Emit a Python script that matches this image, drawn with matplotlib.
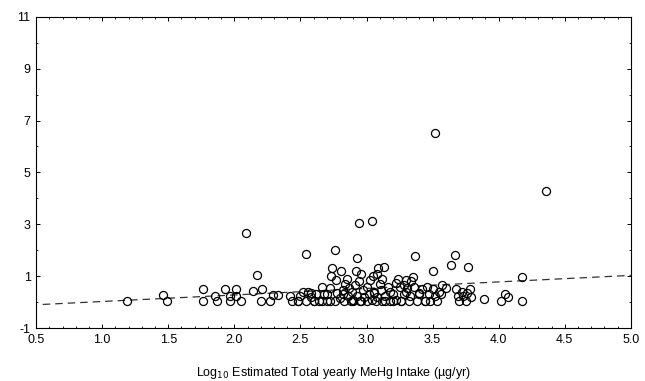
import numpy as np
import matplotlib
matplotlib.use("Agg")
from matplotlib import pyplot as plt
from matplotlib.ticker import MultipleLocator

plt.rcParams['font.family'] = ['Liberation Sans', 'DejaVu Sans']
plt.rcParams['axes.unicode_minus'] = False

# log10 estimated total yearly MeHg intake
intake = [1.19, 1.46, 1.49, 1.76, 1.76, 1.85, 1.87, 1.93, 1.97, 1.97,
          2.01, 2.01, 2.05, 2.09, 2.14, 2.17, 2.20, 2.21, 2.27, 2.29,
          2.33, 2.42, 2.44, 2.48, 2.50, 2.52, 2.54, 2.54, 2.56, 2.58,
          2.60, 2.62, 2.64, 2.66, 2.68, 2.70, 2.72, 2.73, 2.74, 2.76,
          2.76, 2.77, 2.78, 2.80, 2.81, 2.82, 2.83, 2.84, 2.85, 2.86,
          2.87, 2.88, 2.89, 2.90, 2.91, 2.92, 2.93, 2.93, 2.94, 2.94,
          2.95, 2.96, 2.97, 2.98, 3.00, 3.00, 3.02, 3.03, 3.04, 3.04,
          3.05, 3.06, 3.07, 3.08, 3.09, 3.10, 3.11, 3.12, 3.13, 3.14,
          3.16, 3.18, 3.20, 3.22, 3.24, 3.25, 3.26, 3.28, 3.30, 3.31,
          3.32, 3.33, 3.35, 3.36, 3.37, 3.38, 3.40, 3.42, 3.44, 3.46,
          3.47, 3.48, 3.50, 3.50, 3.52, 3.52, 3.53, 3.55, 3.57, 3.60,
          3.64, 3.67, 3.68, 3.69, 3.70, 3.72, 3.73, 3.75, 3.76, 3.77,
          3.78, 3.79, 3.89, 4.02, 4.05, 4.07, 4.18, 4.18, 4.36,
          2.48, 2.60, 2.66, 2.72, 2.90, 2.96, 3.14, 3.20, 3.26, 3.44,
          2.58, 2.70, 2.82, 3.06, 3.18, 3.30, 3.40, 3.56,
          3.22, 3.28, 3.34, 3.12, 3.08]
hg = [0.03, 0.26, 0.03, 0.52, 0.03, 0.22, 0.03, 0.52, 0.22, 0.03,
      0.52, 0.22, 0.03, 2.67, 0.42, 1.03, 0.03, 0.52, 0.03, 0.26,
      0.26, 0.22, 0.03, 0.03, 0.22, 0.38, 1.87, 0.06, 0.40, 0.20,
      0.03, 0.30, 0.06, 0.60, 0.30, 0.06, 0.55, 1.00, 1.30, 2.02,
      0.06, 0.85, 0.35, 0.15, 1.20, 0.45, 0.03, 0.70, 0.90, 0.25,
      0.55, 0.03, 0.40, 0.10, 0.65, 1.20, 1.71, 0.25, 3.06, 0.80,
      0.03, 1.10, 0.45, 0.20, 0.60, 0.03, 0.30, 0.85, 3.12, 0.10,
      1.00, 0.40, 0.03, 0.20, 1.30, 0.70, 0.45, 0.03, 1.35, 0.25,
      0.60, 0.03, 0.30, 0.10, 0.90, 0.60, 0.03, 0.30, 0.85, 0.55,
      0.03, 0.25, 0.95, 0.60, 1.77, 0.03, 0.30, 0.50, 0.03, 0.60,
      0.30, 0.03, 1.19, 0.50, 6.50, 0.25, 0.03, 0.40, 0.65, 0.55,
      1.44, 1.80, 0.50, 0.25, 0.03, 0.40, 0.25, 0.03, 0.35, 1.35,
      0.50, 0.20, 0.11, 0.03, 0.32, 0.18, 0.97, 0.03, 4.29,
      0.03, 0.06, 0.03, 0.06, 0.03, 0.06, 0.06, 0.03, 0.06, 0.06,
      0.35, 0.32, 0.30, 0.35, 0.38, 0.40, 0.35, 0.30,
      0.75, 0.65, 0.80, 0.90, 1.10]

# regression line end points
fit_x = [0.55, 5.0]
fit_y = [-0.09, 1.03]

xticks = [0.5, 1.0, 1.5, 2.0, 2.5, 3.0, 3.5, 4.0, 4.5, 5.0]
yticks = [-1, 1, 3, 5, 7, 9, 11]

fig = plt.figure(figsize=(6.45, 3.81), dpi=100)
ax = fig.add_axes([0.056, 0.139, 0.922, 0.817])

ax.plot(fit_x, fit_y, ls=(0, (6, 4)), color='#333333', lw=0.9)
ax.plot(intake, hg, 'o', mfc='none', mec='black', ms=5.8, mew=0.9)

ax.set_xlim(0.5, 5.0)
ax.set_ylim(-1, 11)
ax.set_xticks(xticks)
ax.set_xticklabels(['%.1f' % t for t in xticks])
ax.set_yticks(yticks)
ax.yaxis.set_minor_locator(MultipleLocator(1))
ax.xaxis.set_minor_locator(MultipleLocator(0.1))
ax.tick_params(which='both', direction='in', top=True, right=True,
               labelsize=9, pad=4)
ax.tick_params(which='major', length=3, width=0.7)
ax.tick_params(which='minor', length=1.5, width=0.6)
for s in ax.spines.values():
    s.set_linewidth(0.8)

ax.set_xlabel('Log$_{10}$ Estimated Total yearly MeHg Intake (µg/yr)',
              fontsize=9, labelpad=14)

fig.savefig('out.png', dpi=100)
